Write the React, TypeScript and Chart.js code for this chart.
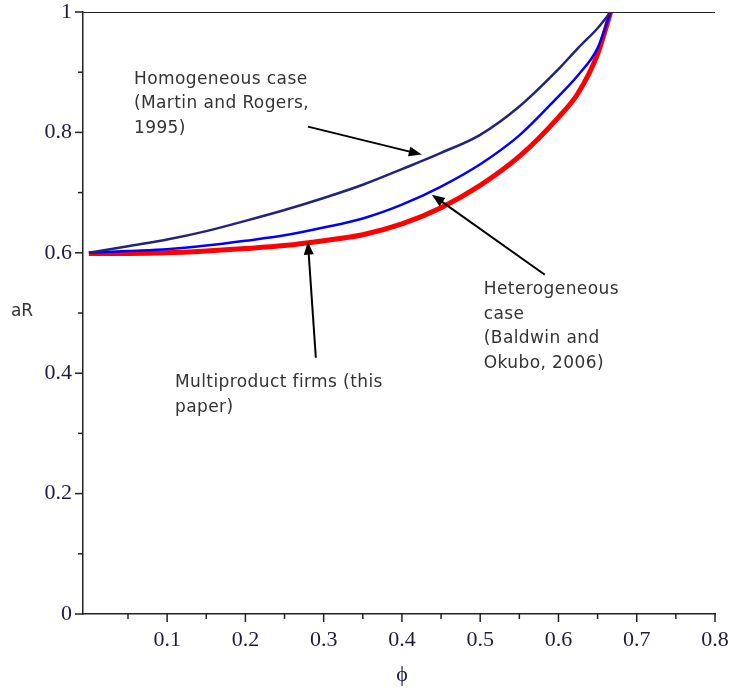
import React, { useEffect, useRef } from "react";
import { Chart, registerables } from "chart.js";

Chart.register(...registerables);

// ---- data ----
const phiValues = [0, 0.05, 0.1, 0.15, 0.2, 0.25, 0.3, 0.35, 0.4, 0.45, 0.5, 0.55, 0.6, 0.625, 0.65, 0.6667];
const homogeneous = [0.6, 0.611, 0.622, 0.636, 0.653, 0.671, 0.691, 0.713, 0.739, 0.766, 0.796, 0.843, 0.905, 0.94, 0.973, 1.0];
const heterogeneous = [0.6, 0.603, 0.606, 0.612, 0.62, 0.629, 0.642, 0.657, 0.68, 0.71, 0.747, 0.795, 0.86, 0.895, 0.94, 1.0];
const multiproduct = [0.599, 0.599, 0.6, 0.603, 0.607, 0.612, 0.62, 0.63, 0.648, 0.675, 0.712, 0.76, 0.825, 0.865, 0.93, 1.0];
const upperBoundPhi = [-0.0075, 0.8];
const upperBound = [1, 1];

const X_MIN = -0.0075;
const X_MAX = 0.8;
const xTickValues = [0.05, 0.1, 0.15, 0.2, 0.25, 0.3, 0.35, 0.4, 0.45, 0.5, 0.55, 0.6, 0.65, 0.7, 0.75, 0.8];
const xMajorLabels = ["0.1", "0.2", "0.3", "0.4", "0.5", "0.6", "0.7", "0.8"];
const yTickValues = [0, 0.1, 0.2, 0.3, 0.4, 0.5, 0.6, 0.7, 0.8, 0.9, 1];
const yMajorLabels = ["0", "0.2", "0.4", "0.6", "0.8", "1"];

const homogeneousNote = ["Homogeneous case", "(Martin and Rogers,", "1995)"];
const heterogeneousNote = ["Heterogeneous", "case", "(Baldwin and", "Okubo, 2006)"];
const multiproductNote = ["Multiproduct firms (this", "paper)"];

// annotation anchors in data coordinates [phi, aR]
const homogeneousTextAt = [0.0576, 0.888];
const homogeneousArrow = [[0.2799, 0.8096], [0.4254, 0.7631]];
const heterogeneousTextAt = [0.5046, 0.5387];
const heterogeneousArrow = [[0.5826, 0.5636], [0.4382, 0.6966]];
const multiproductTextAt = [0.110, 0.384];
const multiproductArrow = [[0.29, 0.4256], [0.2798, 0.6185]];

const toPoints = (xs: number[], ys: number[]) => xs.map((x, i) => ({ x, y: ys[i] }));
const fmt = (v: number) => String(Math.round(v * 100) / 100);

const LABEL_FONT = { family: "'Liberation Serif', 'Times New Roman', serif", size: 22 };
const LABEL_COLOR = "#1c1c40";

const overlayPlugin = {
  id: "overlay",
  afterDraw(chart: any) {
    const { ctx, scales, chartArea } = chart;
    const xs = scales.x;
    const ys = scales.y;
    ctx.save();
    // tick marks
    ctx.strokeStyle = "#222";
    ctx.lineWidth = 1.5;
    xTickValues.forEach((v) => {
      const px = xs.getPixelForValue(v);
      const major = xMajorLabels.includes(fmt(v));
      ctx.beginPath();
      ctx.moveTo(px, chartArea.bottom);
      ctx.lineTo(px, chartArea.bottom + (major ? 8 : 5));
      ctx.stroke();
    });
    yTickValues.forEach((v) => {
      const py = ys.getPixelForValue(v);
      const major = yMajorLabels.includes(fmt(v));
      ctx.beginPath();
      ctx.moveTo(chartArea.left, py);
      ctx.lineTo(chartArea.left - (major ? 8 : 5), py);
      ctx.stroke();
    });

    // axis titles
    ctx.fillStyle = "#333";
    ctx.font = "17px 'DejaVu Sans'";
    ctx.textAlign = "center";
    ctx.textBaseline = "middle";
    ctx.fillText("aR", 22, ys.getPixelForValue(0.503));
    ctx.font = "22px 'Liberation Serif'";
    ctx.fillStyle = LABEL_COLOR;
    ctx.fillText("\u03D5", xs.getPixelForValue(0.4), 675);

    // notes
    const drawNote = (lines: string[], at: number[]) => {
      ctx.font = "17px 'DejaVu Sans'";
      (ctx as any).letterSpacing = "0.4px";
      ctx.fillStyle = "#333";
      ctx.textAlign = "left";
      ctx.textBaseline = "middle";
      const x0 = xs.getPixelForValue(at[0]);
      const y0 = ys.getPixelForValue(at[1]);
      lines.forEach((t, i) => ctx.fillText(t, x0, y0 + i * 24.5));
      (ctx as any).letterSpacing = "0px";
    };
    const drawArrow = (a: number[][]) => {
      const x1 = xs.getPixelForValue(a[0][0]);
      const y1 = ys.getPixelForValue(a[0][1]);
      const x2 = xs.getPixelForValue(a[1][0]);
      const y2 = ys.getPixelForValue(a[1][1]);
      const ang = Math.atan2(y2 - y1, x2 - x1);
      const L = 13;
      const W = 5;
      ctx.strokeStyle = "#000";
      ctx.fillStyle = "#000";
      ctx.lineWidth = 2;
      ctx.beginPath();
      ctx.moveTo(x1, y1);
      ctx.lineTo(x2 - Math.cos(ang) * L * 0.8, y2 - Math.sin(ang) * L * 0.8);
      ctx.stroke();
      ctx.beginPath();
      ctx.moveTo(x2, y2);
      ctx.lineTo(x2 - Math.cos(ang) * L - Math.sin(ang) * W, y2 - Math.sin(ang) * L + Math.cos(ang) * W);
      ctx.lineTo(x2 - Math.cos(ang) * L + Math.sin(ang) * W, y2 - Math.sin(ang) * L - Math.cos(ang) * W);
      ctx.closePath();
      ctx.fill();
    };
    drawNote(homogeneousNote, homogeneousTextAt);
    drawNote(heterogeneousNote, heterogeneousTextAt);
    drawNote(multiproductNote, multiproductTextAt);
    drawArrow(homogeneousArrow);
    drawArrow(heterogeneousArrow);
    drawArrow(multiproductArrow);
    ctx.restore();
  },
};

export default function App() {
  const ref = useRef<HTMLCanvasElement | null>(null);
  useEffect(() => {
    if (!ref.current) return;
    const chart = new Chart(ref.current, {
      type: "line",
      data: {
        datasets: [
          {
            label: "upper",
            data: toPoints(upperBoundPhi, upperBound),
            borderColor: "#222",
            borderWidth: 2,
            pointRadius: 0,
            order: 4,
          },
          {
            label: "Multiproduct firms",
            data: toPoints(phiValues, multiproduct),
            borderColor: "#ff0000",
            borderWidth: 5,
            pointRadius: 0,
            cubicInterpolationMode: "monotone",
            order: 3,
          },
          {
            label: "Heterogeneous",
            data: toPoints(phiValues, heterogeneous),
            borderColor: "#0000ff",
            borderWidth: 2.5,
            pointRadius: 0,
            cubicInterpolationMode: "monotone",
            order: 2,
          },
          {
            label: "Homogeneous",
            data: toPoints(phiValues, homogeneous),
            borderColor: "#23237e",
            borderWidth: 2.5,
            pointRadius: 0,
            cubicInterpolationMode: "monotone",
            order: 1,
          },
        ],
      },
      options: {
        responsive: false,
        animation: false,
        layout: { padding: { top: 12, right: 15, left: 0, bottom: 0 } },
        plugins: { legend: { display: false }, tooltip: { enabled: false } },
        scales: {
          x: {
            type: "linear",
            min: X_MIN,
            max: X_MAX,
            afterBuildTicks: (s: any) => {
              s.ticks = xTickValues.map((v) => ({ value: v }));
            },
            afterFit: (s: any) => {
              s.height = 74;
              s.paddingLeft = 0;
              s.paddingRight = 0;
            },
            grid: { display: false },
            border: { display: true, color: "#222", width: 1.5 },
            ticks: {
              autoSkip: false,
              maxRotation: 0,
              padding: 5,
              color: LABEL_COLOR,
              font: LABEL_FONT,
              callback: (v: any) => {
                const s = fmt(Number(v));
                return xMajorLabels.includes(s) ? s : "";
              },
            },
          },
          y: {
            type: "linear",
            min: 0,
            max: 1,
            afterBuildTicks: (s: any) => {
              s.ticks = yTickValues.map((v) => ({ value: v }));
            },
            afterFit: (s: any) => {
              s.width = 83;
              s.paddingTop = 0;
              s.paddingBottom = 0;
            },
            grid: { display: false },
            border: { display: true, color: "#222", width: 1.5 },
            ticks: {
              autoSkip: false,
              padding: 3,
              color: LABEL_COLOR,
              font: LABEL_FONT,
              callback: (v: any) => {
                const s = fmt(Number(v));
                return yMajorLabels.includes(s) ? s : "";
              },
            },
          },
        },
      },
      plugins: [overlayPlugin],
    } as any);
    return () => chart.destroy();
  }, []);
  return (
    <div style={{ position: "absolute", left: 0, top: 0, width: 730, height: 688, background: "#fff" }}>
      <canvas ref={ref} width={730} height={688} style={{ width: 730, height: 688 }} />
    </div>
  );
}
